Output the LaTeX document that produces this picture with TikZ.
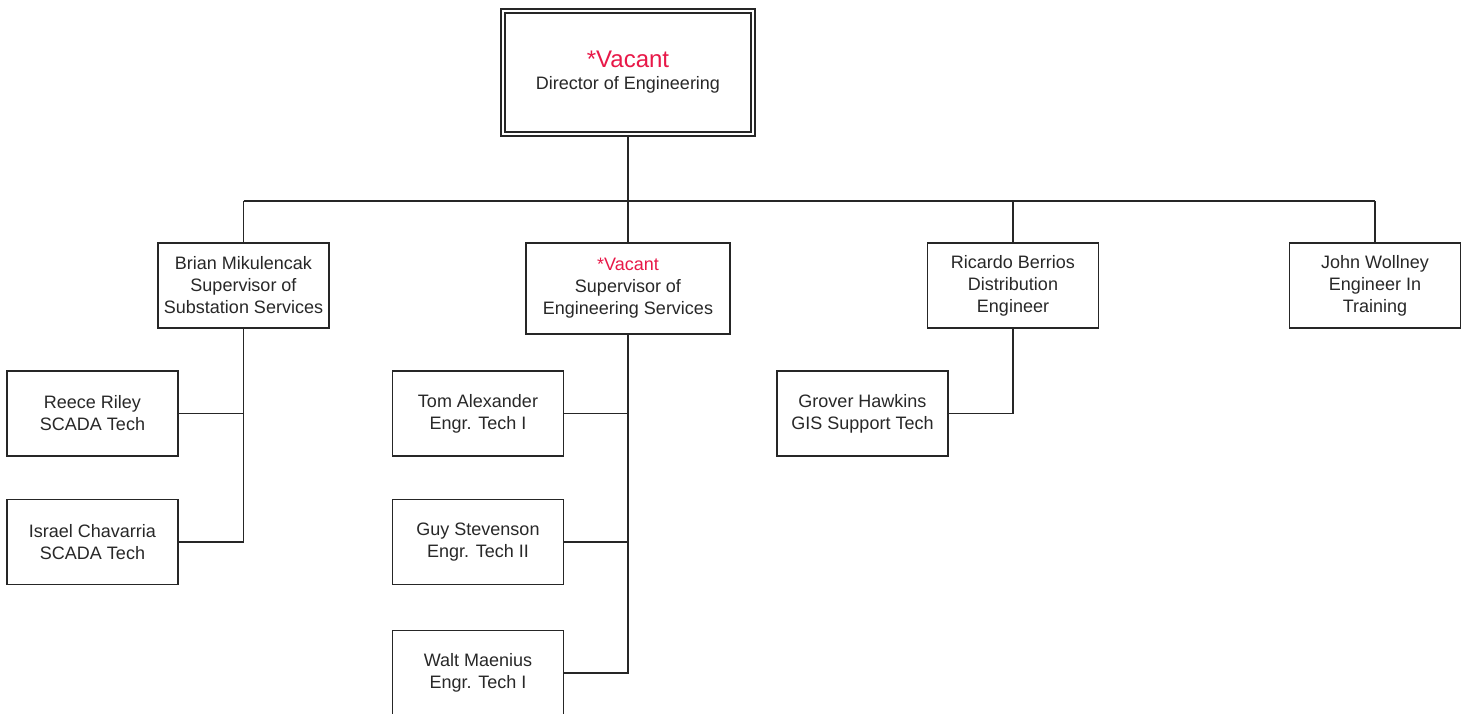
\documentclass[tikz,border=0pt]{standalone}
\usepackage{fontspec}
\setmainfont{Liberation Sans}
\definecolor{vacantred}{RGB}{232,24,72}
\definecolor{txtgray}{RGB}{40,40,40}
\tikzset{
    post/.style={draw=black!85, line width=1.3pt, fill=white, align=center,
      text=txtgray, font=\fontsize{18}{22}\selectfont, inner sep=0pt,
      minimum width=171pt, minimum height=85pt},
    headpost/.style={post, double, double distance=2.4pt, line width=1.6pt,
      minimum width=250pt, minimum height=123pt},
    link/.style={draw=black!85, line width=1.3pt},
    vacant/.style={text=vacantred},
  }
\begin{document}
\begin{tikzpicture}[x=1pt,y=-1pt]
  \useasboundingbox[fill=white] (0,0) rectangle (1468,713);
  %director and the branch bar
  \node[headpost] (dir) at (628,72.5) {{\fontsize{24}{28}\selectfont\color{vacantred}*Vacant}\\Director of Engineering};
  \coordinate (bar) at (628,201);
  \coordinate (barL) at (243.5,201);
  \coordinate (barR) at (1375,201);
  %second row
  \node[post] (sub) at (243.5,285.5) {Brian Mikulencak\\Supervisor of\\Substation Services};
  \node[post, minimum width=204pt, minimum height=91pt] (eng) at (628,288.5) {\textcolor{vacantred}{*Vacant}\\Supervisor of\\Engineering Services};
  \node[post] (dist) at (1013,285.5) {Ricardo Berrios\\Distribution\\Engineer};
  \node[post] (eit) at (1375,285.5) {John Wollney\\Engineer In\\Training};
  %third row and below
  \node[post] (scada1) at (92.5,413.5) {Reece Riley\\SCADA Tech};
  \node[post] (scada2) at (92.5,542) {Israel Chavarria\\SCADA Tech};
  \node[post] (tech1) at (478,413.5) {Tom Alexander\\Engr. Tech I};
  \node[post] (tech2) at (478,542) {Guy Stevenson\\Engr. Tech II};
  \node[post] (tech3) at (478,673) {Walt Maenius\\Engr. Tech I};
  \node[post] (gis) at (862.5,413.5) {Grover Hawkins\\GIS Support Tech};
  %connectors
  \draw[link] (dir.south) -- (bar);
  \draw[link] (barL) -- (barR);
  \draw[link] (barL) -- (sub.north);
  \draw[link] (bar) -- (eng.north);
  \draw[link] (dist.north |- bar) -- (dist.north);
  \draw[link] (barR) -- (eit.north);
  \draw[link] (sub.south) |- (scada2.east);
  \draw[link] (scada1.east) -- (scada1.east -| sub.south);
  \draw[link] (eng.south) |- (tech3.east);
  \draw[link] (tech1.east) -- (tech1.east -| eng.south);
  \draw[link] (tech2.east) -- (tech2.east -| eng.south);
  \draw[link] (dist.south) |- (gis.east);
\end{tikzpicture}
\end{document}
